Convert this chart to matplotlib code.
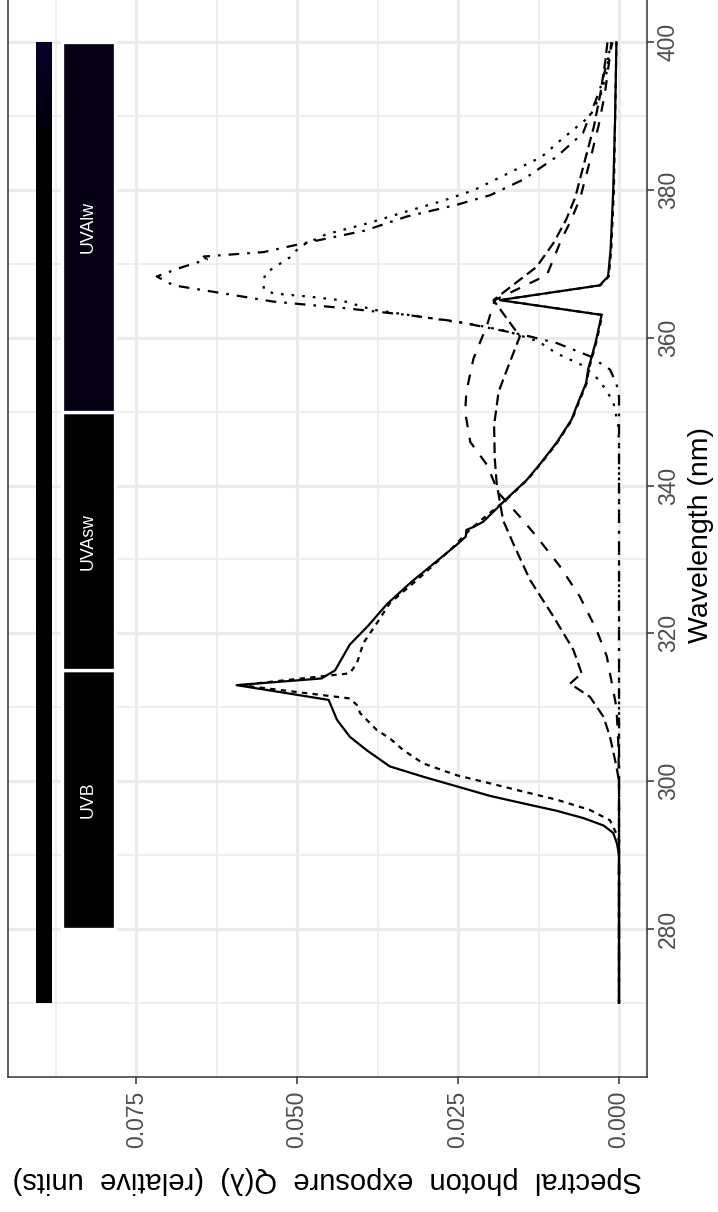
import matplotlib
matplotlib.use('Agg')

import numpy as np
import matplotlib.pyplot as plt
from matplotlib.patches import Rectangle
from matplotlib.colors import to_rgb

plt.rcParams['font.family'] = ['Liberation Sans', 'DejaVu Sans']

# wavelength bands shown as labelled boxes
band_names = ['UVB', 'UVAsw', 'UVAlw']
band_lo = [280, 315, 350]
band_hi = [315, 350, 400]
band_colors = ['#000000', '#000000', '#050014']

# spectra: wavelength (nm) and spectral photon exposure
solid_wl = [270, 290, 291.5, 293, 294, 295, 296, 297, 298, 299.3, 300.6, 302, 304.2, 306, 308.3, 311,
            313, 313.9, 315, 318.5, 321, 324, 327, 330, 332, 333.1, 334, 334.4, 335.1, 338.1, 340.8, 343,
            345.8, 348.9, 350.7, 353.9, 355.7, 359.5, 363.1, 365.1, 367.1, 368.3, 372, 380, 390, 400]
solid_q = [0, 0, 0.0003, 0.0009, 0.0024, 0.0055, 0.0097, 0.0149, 0.0200, 0.0252, 0.0304, 0.0356, 0.0392,
           0.0418, 0.0438, 0.0451, 0.0594, 0.0462, 0.0441, 0.0418, 0.0390, 0.0360, 0.0322, 0.0280, 0.0252,
           0.0238, 0.0237, 0.0226, 0.0211, 0.0176, 0.0143, 0.0122, 0.0097, 0.0074, 0.0066, 0.0051, 0.0048,
           0.0036, 0.0027, 0.0185, 0.0030, 0.0017, 0.0013, 0.0009, 0.0006, 0.0004]

short_wl = [270, 292, 292.9, 294.7, 296.1, 297.5, 298.6, 299.7, 300.8, 302.4, 304.2, 305.8, 306.9, 309.2,
            310.3, 311.2, 313, 314.6, 316, 318.7, 321.4, 324.1, 327.2, 331.3, 334, 336, 338.1, 340.8, 343,
            345.8, 348.9, 350.7, 353.9, 355.7, 359.5, 363.1, 365.1, 367.1, 368.3, 372, 380, 390, 400]
short_q = [0, 0, 0.0004, 0.0014, 0.0045, 0.0097, 0.0149, 0.0200, 0.0252, 0.0304, 0.0335, 0.0356, 0.0376,
           0.0402, 0.0407, 0.0418, 0.0589, 0.0418, 0.0407, 0.0397, 0.0376, 0.0356, 0.0314, 0.0262, 0.0232,
           0.0205, 0.0175, 0.0142, 0.0121, 0.0096, 0.0073, 0.0065, 0.0050, 0.0047, 0.0035, 0.0026, 0.0185,
           0.0029, 0.0016, 0.0012, 0.0008, 0.0006, 0.0004]

broad_wl = [270, 300, 305, 310, 313.2, 316.9, 320.5, 325, 329.1, 333.1, 335.3, 339, 342.8, 345.9, 350,
            352.7, 357.2, 361.7, 365.1, 368.5, 373.2, 376, 379, 384, 388.6, 393, 397.6, 400]
broad_q = [0, 0, 0.0001, 0.0004, 0.0011, 0.0019, 0.0035, 0.0061, 0.0092, 0.0128, 0.0149, 0.0187, 0.0205,
           0.0231, 0.0239, 0.0237, 0.0226, 0.0205, 0.0193, 0.0112, 0.0090, 0.0074, 0.0060, 0.0045, 0.0032,
           0.0022, 0.0015, 0.0012]

flat_wl = [270, 300, 302, 306, 308.7, 311.4, 313.2, 314.6, 317.8, 322.3, 327.2, 332.1, 335.3, 340.3,
           343.7, 348.2, 352.7, 355.7, 360.2, 365.1, 369.6, 372.8, 376, 379, 384, 388.6, 393, 397.6, 400]
flat_q = [0, 0, 0.0004, 0.0014, 0.0024, 0.0045, 0.0076, 0.0058, 0.0071, 0.0102, 0.0138, 0.0164, 0.0180,
          0.0190, 0.0193, 0.0194, 0.0187, 0.0174, 0.0154, 0.0195, 0.0128, 0.0102, 0.0082, 0.0068, 0.0053,
          0.0039, 0.0029, 0.0021, 0.0018]

dotted_wl = [270, 345, 348, 351.4, 354.2, 356.2, 357.9, 359.5, 360.9, 361.8, 363.8, 365.1, 365.6, 366.0,
             366.6, 368.7, 370.9, 372.4, 374, 375.5, 377.1, 378.5, 380, 382, 384.5, 386.8, 390, 393, 396, 400]
dotted_q = [0, 0, 0.0001, 0.0009, 0.0030, 0.0055, 0.0097, 0.0125, 0.0174, 0.0226, 0.0382, 0.0433, 0.0485,
            0.0537, 0.0552, 0.0550, 0.0511, 0.0495, 0.0455, 0.0390, 0.0330, 0.0275, 0.0225, 0.0178, 0.0120,
            0.0090, 0.0045, 0.0028, 0.0019, 0.0013]

dotdash_wl = [270, 352, 353.8, 355.7, 357.5, 359.3, 360.4, 361.3, 362.2, 363.1, 364.0, 364.9, 366.0, 367.1,
              368.3, 369.6, 370.6, 371.0, 371.6, 372.6, 374.5, 376.4, 378.0, 379.3, 381.4, 384.5, 387.7,
              393.5, 400]
dotdash_q = [0, 0, 0.0004, 0.0014, 0.0045, 0.0097, 0.0149, 0.0200, 0.0252, 0.0330, 0.0425, 0.0537, 0.0614,
             0.0692, 0.0718, 0.0677, 0.0640, 0.0645, 0.0552, 0.0500, 0.0395, 0.0330, 0.0252, 0.0200, 0.0149,
             0.0097, 0.0056, 0.0030, 0.0010]

q_ticks = [0.0, 0.025, 0.05, 0.075]
q_labels = ['0.000', '0.025', '0.050', '0.075']
wl_ticks = [280, 300, 320, 340, 360, 380, 400]

W, H = 718, 1212
fig = plt.figure(figsize=(W / 100, H / 100), dpi=100)
# panel in pixels: left 8, right 647, bottom 1077, top just above the image
ax = fig.add_axes([8.2 / W, 1 - 1077 / H, (647 - 8.2) / W, (1077 + 7) / H])
ax.set_xlim(0.09487, -0.004348)
ax.set_ylim(259.97, 406.66)

# grid
ax.set_xticks(q_ticks)
ax.set_xticks([0.0125, 0.0375, 0.0625, 0.0875], minor=True)
ax.set_yticks(wl_ticks)
ax.set_yticks(np.arange(270, 400, 20), minor=True)
ax.grid(which='major', color='#EBEBEB', lw=2.3)
ax.grid(which='minor', color='#EBEBEB', lw=1.2)
ax.set_axisbelow(True)

# coloured wavelength strip along the top of the value range
strip_lo, strip_hi = 0.0880, 0.0905
for w0 in range(270, 400):
    f = min(max((w0 - 386) / 14.0, 0), 1)
    c = np.array(to_rgb('#000000')) * (1 - f) + np.array(to_rgb('#08002e')) * f
    ax.add_patch(Rectangle((strip_lo, w0), strip_hi - strip_lo, 1.05, facecolor=c, edgecolor='none', zorder=2))

# band boxes
box_lo, box_hi = 0.0783, 0.0865
for name, lo, hi, col in zip(band_names, band_lo, band_hi, band_colors):
    ax.add_patch(Rectangle((box_lo, lo), box_hi - box_lo, hi - lo, facecolor=col,
                           edgecolor='white', lw=2.4, zorder=2))
    ax.text((box_lo + box_hi) / 2, (lo + hi) / 2, name, color='white', rotation=90,
            ha='center', va='center', fontsize=12.8, zorder=3)

lw = 1.6
u = 1.2  # ggplot dash unit relative to line width
ax.plot(solid_q, solid_wl, color='black', lw=lw, ls='-', zorder=4)
ax.plot(short_q, short_wl, color='black', lw=lw, ls=(0, (2 * u, 2 * u)), zorder=4)
ax.plot(flat_q, flat_wl, color='black', lw=lw, ls=(0, (4 * u, 2 * u)), zorder=4)
ax.plot(broad_q, broad_wl, color='black', lw=lw, ls=(0, (4 * u, 4 * u)), zorder=4)
ax.plot(dotted_q, dotted_wl, color='black', lw=lw, ls=(0, (1 * u, 3 * u)), zorder=4)
ax.plot(dotdash_q, dotdash_wl, color='black', lw=lw, ls=(0, (1 * u, 3 * u, 4 * u, 3 * u)), zorder=4)

# axes look (theme_bw, turned on its side)
for side in ['left', 'right', 'bottom']:
    ax.spines[side].set_color('#333333')
    ax.spines[side].set_linewidth(1.1)
ax.spines['top'].set_visible(False)

ax.yaxis.tick_right()
ax.set_xticklabels(q_labels)
ax.tick_params(axis='x', which='major', direction='out', length=5, width=1.1, color='#333333',
               labelcolor='#4D4D4D', labelsize=16.5, labelrotation=90, pad=5)
ax.tick_params(axis='y', which='major', direction='out', length=5, width=1.1, color='#333333',
               labelcolor='#4D4D4D', labelsize=16.5, labelrotation=90, pad=2)
ax.tick_params(which='minor', length=0)
for t in ax.get_yticklabels():
    t.set_va('center')

fig.text(701 / W, 1 - 535 / H, 'Wavelength (nm)', rotation=90, ha='center', va='center', fontsize=20.5)
fig.text(327.5 / W, 1 - 1180 / H, 'Spectral  photon  exposure  Q(λ)  (relative  units)', rotation=180,
         ha='center', va='center', fontsize=21)

fig.savefig('out.png', dpi=100)
